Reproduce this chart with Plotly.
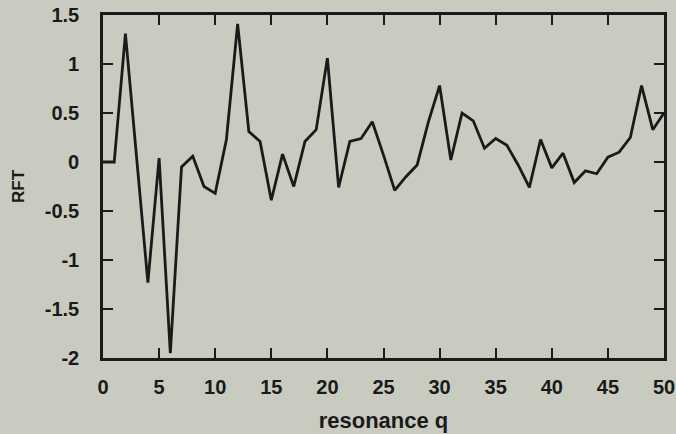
import plotly.graph_objects as go

resonance_q = list(range(0, 51))
rft = [0.0, 0.0, 1.31, 0.05, -1.23, 0.04, -1.95, -0.05, 0.06, -0.25,
       -0.32, 0.23, 1.41, 0.31, 0.21, -0.39, 0.08, -0.25, 0.21, 0.33,
       1.06, -0.26, 0.21, 0.24, 0.41, 0.07, -0.29, -0.15, -0.03, 0.41,
       0.78, 0.02, 0.50, 0.42, 0.14, 0.24, 0.17, -0.03, -0.26, 0.23,
       -0.06, 0.09, -0.21, -0.09, -0.12, 0.05, 0.10, 0.25, 0.78, 0.33,
       0.50]

x_ticks = [0, 5, 10, 15, 20, 25, 30, 35, 40, 45, 50]
y_ticks = [-2, -1.5, -1, -0.5, 0, 0.5, 1, 1.5]
y_tick_labels = ["-2", "-1.5", "-1", "-0.5", "0", "0.5", "1", "1.5"]

paper = "#c9cbc1"
ink = "#1a1a1a"
font_family = "Liberation Sans"

fig = go.Figure()
fig.add_trace(go.Scatter(x=resonance_q, y=rft, mode="lines",
                         line=dict(color=ink, width=2.8), showlegend=False,
                         hoverinfo="skip"))

axis_common = dict(showgrid=False, zeroline=False, showline=True, linecolor=ink,
                   linewidth=2.6, mirror="ticks", ticks="inside", ticklen=10,
                   tickwidth=2.4, tickcolor=ink, automargin=False)

fig.update_xaxes(range=[0, 50], tickvals=x_ticks, ticklabelstandoff=9,
                 tickfont=dict(family=font_family, size=20, color=ink, weight="bold"),
                 title=dict(text="resonance q", standoff=16,
                            font=dict(family=font_family, size=22, color=ink, weight="bold")),
                 **axis_common)
fig.update_yaxes(range=[-2, 1.5], tickvals=y_ticks, ticktext=y_tick_labels,
                 ticklabelstandoff=17,
                 tickfont=dict(family=font_family, size=20, color=ink, weight="bold"),
                 title=dict(text="RFT", standoff=16,
                            font=dict(family=font_family, size=17, color=ink, weight="bold")),
                 **axis_common)

fig.update_layout(width=676, height=434, paper_bgcolor=paper, plot_bgcolor=paper,
                  margin=dict(l=103, r=12, t=15, b=76))

fig.write_html(
    "out.html",
    config={"displayModeBar": False},
    post_script="document.body.style.margin='0';"
                "document.body.style.background='" + paper + "';",
)
